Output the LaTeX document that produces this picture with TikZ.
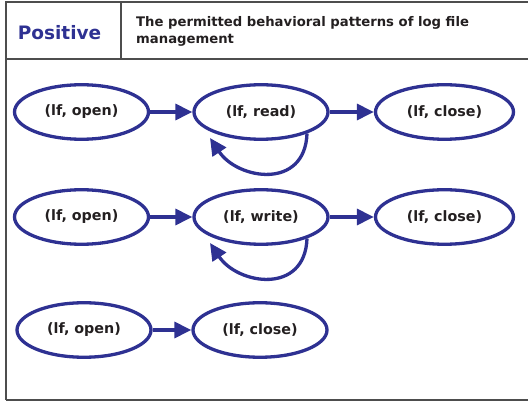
\documentclass[tikz,border=0pt]{standalone}
\usepackage{fontspec}
\setmainfont{DejaVu Sans}
\usetikzlibrary{arrows.meta,shapes.geometric,calc}
\definecolor{dblue}{HTML}{2E3192}
\definecolor{dtext}{HTML}{231F20}
\definecolor{framec}{HTML}{4D4D4D}
\begin{document}
\begin{tikzpicture}[x=1pt,y=-1pt,
  st/.style={ellipse,draw=dblue,line width=3.3pt,minimum width=134pt,minimum height=54.5pt,inner sep=0pt,
    font=\bfseries\fontsize{14.3}{16}\selectfont,text=dtext},
  conn/.style={draw=dblue,line width=3.3pt,-{Triangle[length=17pt,width=16pt]}}]
\useasboundingbox (0,0) rectangle (528,403);
\draw[framec,line width=1.3pt] (6,400) -- (6,2) -- (540,2);
\draw[framec,line width=1.3pt] (6,59) -- (540,59);
\draw[framec,line width=1.3pt] (6,400) -- (540,400);
\draw[framec,line width=1.3pt] (121,2) -- (121,59);
\node[font=\bfseries\fontsize{18.5}{20}\selectfont,text=dblue] (pos) at (59.5,33) {Positive};
\node[anchor=west,align=left,font=\bfseries\fontsize{13.2}{17}\selectfont,text=dtext,inner sep=0pt] (hdr) at (136,31)
  {The permitted behavioral patterns of log file\\management};
% row 1
\node[st] (a1) at (81.5,112) {(lf, open)};
\node[st] (b1) at (261,112) {(lf, read)};
\node[st,minimum width=138pt] (c1) at (444.5,112) {(lf, close)};
\draw[conn] (a1) -- (b1);
\draw[conn] (b1) -- (c1);
\draw[conn] (b1.-25) .. controls ($(b1)+(44,78)$) and ($(b1)+(-23,68)$) .. ($(b1)+(-51,26)$);
% row 2
\node[st] (a2) at (81.5,217) {(lf, open)};
\node[st] (b2) at (261,217) {(lf, write)};
\node[st,minimum width=138pt] (c2) at (444.5,217) {(lf, close)};
\draw[conn] (a2) -- (b2);
\draw[conn] (b2) -- (c2);
\draw[conn] (b2.-25) .. controls ($(b2)+(44,78)$) and ($(b2)+(-23,68)$) .. ($(b2)+(-51,26)$);
% row 3
\node[st] (a3) at (84,330) {(lf, open)};
\node[st] (b3) at (260,330) {(lf, close)};
\draw[conn] (a3) -- (b3);
\end{tikzpicture}
\end{document}
